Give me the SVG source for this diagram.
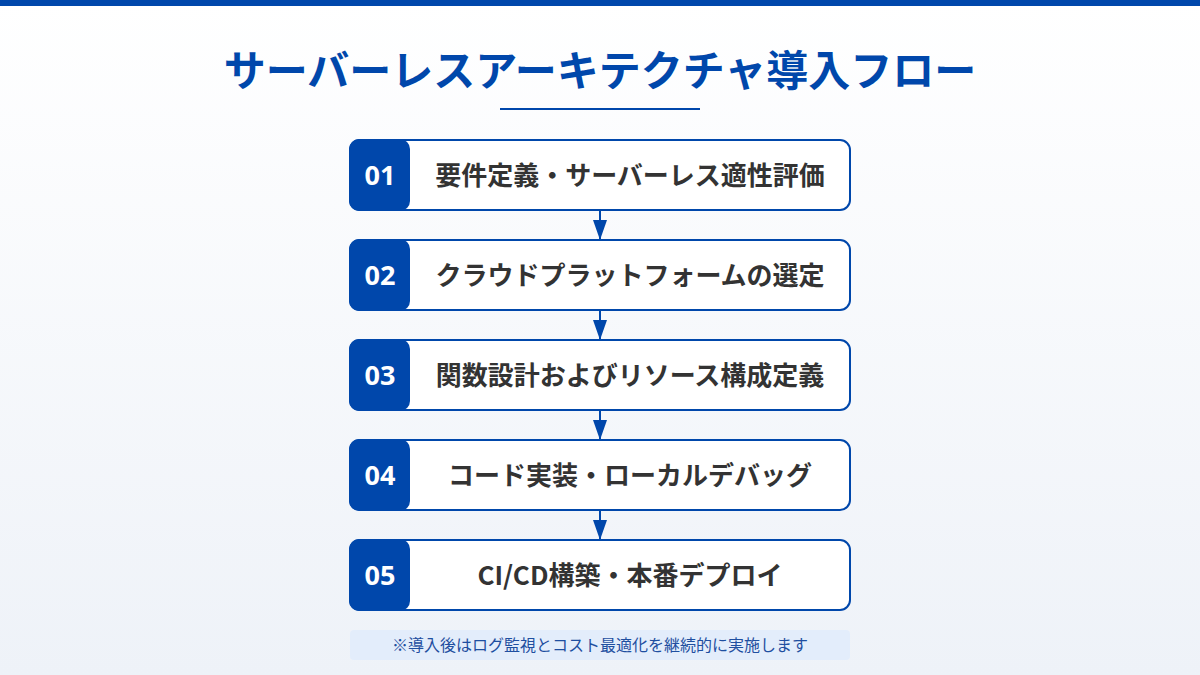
<svg xmlns="http://www.w3.org/2000/svg" width="1200" height="675" viewBox="0 0 1200 675">
<defs>
<linearGradient id="bg" x1="0" y1="0" x2="0" y2="1">
<stop offset="0" stop-color="#ffffff"/>
<stop offset="1" stop-color="#eef2f8"/>
</linearGradient>
<marker id="ah" viewBox="0 0 20 14" refX="20" refY="7" markerWidth="20" markerHeight="14" markerUnits="userSpaceOnUse" orient="auto">
<path d="M0,0 L20,7 L0,14 Z" fill="#0047ab"/>
</marker>
</defs>
<style>
.box{fill:#ffffff;stroke:#0047ab;stroke-width:2}
.badge{fill:#0047ab}
.num{font-family:"Open Sans","Noto Sans",sans-serif;font-weight:700;font-size:27px;fill:#ffffff;text-anchor:middle}
.lbl{font-family:"Noto Sans CJK JP","Noto Sans",sans-serif;font-weight:700;font-size:26px;fill:#333333;text-anchor:middle}
.conn{stroke:#0047ab;stroke-width:2;fill:none}
</style>
<rect x="0" y="0" width="1200" height="675" fill="url(#bg)"/>
<rect x="0" y="0" width="1200" height="6" fill="#0047ab"/>
<text x="600" y="86" font-family="'Noto Sans CJK JP',sans-serif" font-weight="700" font-size="42" fill="#0047ab" text-anchor="middle">サーバーレスアーキテクチャ導入フロー</text>
<rect x="500" y="108" width="200" height="2" fill="#0047ab"/>
<g id="connectors">
<line class="conn" x1="600" y1="210" x2="600" y2="240" marker-end="url(#ah)"/>
<line class="conn" x1="600" y1="310" x2="600" y2="340" marker-end="url(#ah)"/>
<line class="conn" x1="600" y1="410" x2="600" y2="440" marker-end="url(#ah)"/>
<line class="conn" x1="600" y1="510" x2="600" y2="540" marker-end="url(#ah)"/>
</g>
<g id="step1">
<rect class="box" x="350" y="140" width="500" height="70" rx="10"/>
<rect class="badge" x="349" y="139" width="61" height="72" rx="10"/>
<text class="num" x="380" y="185">01</text>
<text class="lbl" x="630" y="185">要件定義・サーバーレス適性評価</text>
</g>
<g id="step2">
<rect class="box" x="350" y="240" width="500" height="70" rx="10"/>
<rect class="badge" x="349" y="239" width="61" height="72" rx="10"/>
<text class="num" x="380" y="285">02</text>
<text class="lbl" x="630" y="285">クラウドプラットフォームの選定</text>
</g>
<g id="step3">
<rect class="box" x="350" y="340" width="500" height="70" rx="10"/>
<rect class="badge" x="349" y="339" width="61" height="72" rx="10"/>
<text class="num" x="380" y="385">03</text>
<text class="lbl" x="630" y="385">関数設計およびリソース構成定義</text>
</g>
<g id="step4">
<rect class="box" x="350" y="440" width="500" height="70" rx="10"/>
<rect class="badge" x="349" y="439" width="61" height="72" rx="10"/>
<text class="num" x="380" y="485">04</text>
<text class="lbl" x="630" y="485">コード実装・ローカルデバッグ</text>
</g>
<g id="step5">
<rect class="box" x="350" y="540" width="500" height="70" rx="10"/>
<rect class="badge" x="349" y="539" width="61" height="72" rx="10"/>
<text class="num" x="380" y="585">05</text>
<text class="lbl" x="630" y="585">CI/CD構築・本番デプロイ</text>
</g>
<g id="note">
<rect x="350" y="630" width="500" height="30" rx="4" fill="#e3edfb"/>
<text x="600" y="651" font-family="'Noto Sans CJK JP',sans-serif" font-size="16" fill="#1f4fa0" text-anchor="middle">※導入後はログ監視とコスト最適化を継続的に実施します</text>
</g>
</svg>
